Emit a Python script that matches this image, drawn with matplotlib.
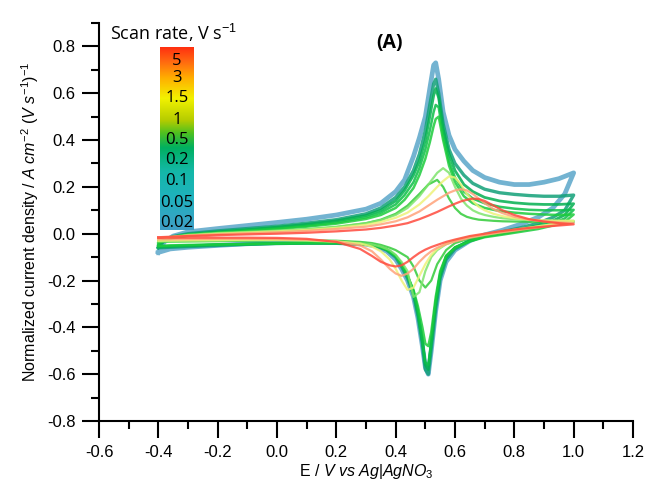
import numpy as np
import matplotlib
matplotlib.use("Agg")
import matplotlib.pyplot as plt
from matplotlib.colors import LinearSegmentedColormap
from matplotlib.ticker import MultipleLocator

plt.rcParams['font.family'] = ['Liberation Sans', 'DejaVu Sans']
plt.rcParams['mathtext.fontset'] = 'custom'
plt.rcParams['mathtext.rm'] = 'Liberation Sans'
plt.rcParams['mathtext.it'] = 'Liberation Sans:italic'

# potential grids (V vs Ag|AgNO3) for the slow, sharp-peaked sweeps
sharp_fwd_e = [-0.4, -0.38, -0.35, -0.3, -0.2, -0.1, 0.0, 0.1, 0.2, 0.3,
               0.35, 0.4, 0.43, 0.46, 0.48, 0.5, 0.515, 0.528, 0.535, 0.545,
               0.56, 0.58, 0.6, 0.63, 0.66, 0.7, 0.75, 0.8, 0.85, 0.9,
               0.95, 1.0]
sharp_rev_e = [1.0, 0.97, 0.93, 0.88, 0.82, 0.76, 0.7, 0.65, 0.6, 0.57,
               0.55, 0.535, 0.52, 0.51, 0.5, 0.49, 0.475, 0.46, 0.44, 0.42,
               0.4, 0.37, 0.33, 0.3, 0.2, 0.1, 0.0, -0.1, -0.2, -0.3,
               -0.36, -0.4]

# potential grids for the fast, broad-peaked sweeps
broad_fwd_e = [-0.4, -0.3, -0.2, -0.1, 0.0, 0.1, 0.2, 0.3, 0.35, 0.4,
               0.44, 0.48, 0.51, 0.54, 0.56, 0.58, 0.6, 0.62, 0.64, 0.66,
               0.68, 0.7, 0.73, 0.76, 0.8, 0.85, 0.9, 0.95, 1.0]
broad_rev_e = [1.0, 0.95, 0.9, 0.85, 0.8, 0.75, 0.7, 0.65, 0.6, 0.57,
               0.54, 0.52, 0.5, 0.48, 0.46, 0.44, 0.42, 0.4, 0.38, 0.35,
               0.32, 0.28, 0.2, 0.1, 0.0, -0.1, -0.2, -0.3, -0.4]

# normalized current density, A cm-2 (V s-1)-1
j_002_fwd = [-0.08, -0.035, -0.01, 0.008, 0.022, 0.035, 0.048, 0.062, 0.08, 0.105,
             0.13, 0.18, 0.23, 0.33, 0.41, 0.5, 0.62, 0.72, 0.73, 0.66,
             0.52, 0.42, 0.36, 0.31, 0.27, 0.24, 0.22, 0.21, 0.21, 0.22,
             0.235, 0.26]
j_002_rev = [0.26, 0.17, 0.11, 0.07, 0.04, 0.015, -0.005, -0.03, -0.07, -0.12,
             -0.2, -0.33, -0.5, -0.6, -0.57, -0.48, -0.36, -0.27, -0.2, -0.15,
             -0.11, -0.075, -0.052, -0.045, -0.038, -0.036, -0.038, -0.043, -0.05, -0.058,
             -0.065, -0.08]

j_005_fwd = [-0.06, -0.03, -0.012, 0.0, 0.012, 0.022, 0.032, 0.045, 0.06, 0.085,
             0.11, 0.155, 0.2, 0.27, 0.34, 0.44, 0.55, 0.64, 0.66, 0.6,
             0.47, 0.36, 0.3, 0.25, 0.215, 0.19, 0.175, 0.168, 0.163, 0.16,
             0.16, 0.165]
j_005_rev = [0.165, 0.1, 0.07, 0.045, 0.025, 0.008, -0.008, -0.03, -0.065, -0.11,
             -0.19, -0.32, -0.49, -0.6, -0.58, -0.47, -0.35, -0.26, -0.19, -0.14,
             -0.1, -0.07, -0.05, -0.045, -0.04, -0.04, -0.042, -0.045, -0.05, -0.055,
             -0.058, -0.06]

j_01_fwd = [-0.05, -0.03, -0.015, -0.003, 0.008, 0.018, 0.028, 0.04, 0.055, 0.078,
            0.1, 0.14, 0.185, 0.25, 0.31, 0.4, 0.5, 0.59, 0.62, 0.58,
            0.45, 0.34, 0.27, 0.21, 0.18, 0.155, 0.14, 0.132, 0.127, 0.125,
            0.125, 0.128]
j_01_rev = [0.128, 0.08, 0.055, 0.035, 0.018, 0.003, -0.01, -0.03, -0.06, -0.1,
            -0.18, -0.3, -0.47, -0.58, -0.56, -0.46, -0.34, -0.25, -0.18, -0.13,
            -0.095, -0.068, -0.05, -0.045, -0.04, -0.04, -0.042, -0.045, -0.048, -0.052,
            -0.055, -0.058]

j_02_fwd = [-0.045, -0.028, -0.015, -0.005, 0.005, 0.014, 0.023, 0.034, 0.048, 0.07,
            0.09, 0.125, 0.165, 0.22, 0.28, 0.36, 0.44, 0.52, 0.55, 0.54,
            0.42, 0.31, 0.24, 0.18, 0.15, 0.13, 0.115, 0.107, 0.102, 0.1,
            0.1, 0.102]
j_02_rev = [0.102, 0.065, 0.045, 0.028, 0.013, 0.0, -0.012, -0.03, -0.058, -0.095,
            -0.17, -0.29, -0.46, -0.56, -0.55, -0.45, -0.33, -0.245, -0.18, -0.13,
            -0.095, -0.068, -0.05, -0.045, -0.04, -0.04, -0.042, -0.044, -0.046, -0.05,
            -0.052, -0.055]

j_05_fwd = [-0.04, -0.025, -0.013, -0.004, 0.004, 0.012, 0.02, 0.03, 0.043, 0.063,
            0.08, 0.11, 0.145, 0.195, 0.25, 0.32, 0.39, 0.46, 0.49, 0.5,
            0.4, 0.29, 0.22, 0.16, 0.13, 0.11, 0.097, 0.09, 0.085, 0.082,
            0.08, 0.082]
j_05_rev = [0.082, 0.05, 0.035, 0.02, 0.008, -0.004, -0.015, -0.033, -0.06, -0.095,
            -0.16, -0.27, -0.42, -0.48, -0.47, -0.4, -0.31, -0.24, -0.18, -0.13,
            -0.095, -0.068, -0.05, -0.045, -0.04, -0.04, -0.042, -0.044, -0.046, -0.048,
            -0.05, -0.052]

j_1_fwd = [-0.03, -0.01, 0.0, 0.005, 0.01, 0.018, 0.028, 0.045, 0.06, 0.085,
           0.12, 0.17, 0.21, 0.23, 0.2, 0.15, 0.11, 0.085, 0.072, 0.065,
           0.06, 0.058, 0.055, 0.053, 0.052, 0.051, 0.05, 0.05, 0.05]
j_1_rev = [0.05, 0.04, 0.03, 0.02, 0.01, 0.0, -0.01, -0.02, -0.04, -0.07,
           -0.13, -0.2, -0.23, -0.2, -0.14, -0.1, -0.085, -0.07, -0.06, -0.048,
           -0.04, -0.035, -0.03, -0.028, -0.028, -0.03, -0.032, -0.033, -0.035]

j_15_fwd = [-0.02, -0.005, 0.003, 0.008, 0.013, 0.02, 0.03, 0.045, 0.058, 0.08,
            0.11, 0.16, 0.21, 0.26, 0.28, 0.26, 0.2, 0.15, 0.12, 0.1,
            0.088, 0.08, 0.072, 0.066, 0.062, 0.058, 0.056, 0.055, 0.055]
j_15_rev = [0.055, 0.045, 0.035, 0.025, 0.015, 0.005, -0.005, -0.015, -0.03, -0.045,
            -0.07, -0.1, -0.16, -0.25, -0.27, -0.16, -0.12, -0.09, -0.07, -0.055,
            -0.045, -0.04, -0.035, -0.03, -0.028, -0.028, -0.03, -0.032, -0.033]

j_3_fwd = [-0.02, -0.008, 0.0, 0.005, 0.01, 0.016, 0.025, 0.038, 0.05, 0.068,
           0.09, 0.125, 0.16, 0.2, 0.225, 0.245, 0.24, 0.21, 0.17, 0.14,
           0.115, 0.1, 0.085, 0.075, 0.066, 0.06, 0.057, 0.055, 0.055]
j_3_rev = [0.055, 0.045, 0.035, 0.026, 0.017, 0.008, -0.002, -0.013, -0.028, -0.042,
           -0.065, -0.09, -0.13, -0.18, -0.23, -0.24, -0.2, -0.15, -0.11, -0.075,
           -0.055, -0.042, -0.033, -0.028, -0.026, -0.026, -0.027, -0.028, -0.03]

j_4_fwd = [-0.018, -0.008, -0.002, 0.002, 0.006, 0.012, 0.02, 0.03, 0.04, 0.053,
           0.07, 0.095, 0.12, 0.145, 0.16, 0.175, 0.185, 0.19, 0.185, 0.17,
           0.15, 0.13, 0.105, 0.088, 0.072, 0.06, 0.053, 0.048, 0.045]
j_4_rev = [0.045, 0.038, 0.03, 0.022, 0.013, 0.005, -0.005, -0.017, -0.033, -0.045,
           -0.06, -0.075, -0.095, -0.12, -0.15, -0.17, -0.18, -0.17, -0.15, -0.11,
           -0.075, -0.05, -0.033, -0.026, -0.023, -0.022, -0.022, -0.023, -0.024]

j_5_fwd = [-0.015, -0.01, -0.006, -0.003, 0.0, 0.004, 0.01, 0.018, 0.025, 0.035,
           0.045, 0.062, 0.077, 0.093, 0.105, 0.117, 0.128, 0.138, 0.145, 0.15,
           0.148, 0.14, 0.12, 0.1, 0.08, 0.062, 0.052, 0.045, 0.04]
j_5_rev = [0.04, 0.035, 0.03, 0.025, 0.018, 0.01, 0.0, -0.01, -0.025, -0.035,
           -0.048, -0.057, -0.068, -0.082, -0.1, -0.12, -0.135, -0.14, -0.135, -0.12,
           -0.095, -0.065, -0.035, -0.022, -0.018, -0.017, -0.017, -0.017, -0.017]

x_ticks = [-0.6, -0.4, -0.2, 0.0, 0.2, 0.4, 0.6, 0.8, 1.0, 1.2]
y_ticks = [-0.8, -0.6, -0.4, -0.2, 0.0, 0.2, 0.4, 0.6, 0.8]

scan_labels = ['5', '3', '1.5', '1', '0.5', '0.2', '0.1', '0.05', '0.02']
label_y = [0.925, 0.83, 0.72, 0.6, 0.49, 0.38, 0.27, 0.145, 0.04]

ramp = ['#3f9ec6', '#1fb2bd', '#14b8a8', '#00b060', '#4fc020', '#b5cc00',
        '#f2f200', '#ffb000', '#ff6a10', '#ff3010']
ramp_pos = [0.0, 0.18, 0.32, 0.45, 0.53, 0.6, 0.72, 0.83, 0.92, 1.0]

# (potentials, currents, colour, width), fastest sweep first
curves = [
    (broad_fwd_e + broad_rev_e, j_5_fwd + j_5_rev, '#ff4a3d', 1.6),
    (broad_fwd_e + broad_rev_e, j_4_fwd + j_4_rev, '#ffa27a', 1.6),
    (broad_fwd_e + broad_rev_e, j_3_fwd + j_3_rev, '#eef27a', 1.6),
    (broad_fwd_e + broad_rev_e, j_15_fwd + j_15_rev, '#7ee46c', 1.6),
    (broad_fwd_e + broad_rev_e, j_1_fwd + j_1_rev, '#33cc3a', 1.6),
    (sharp_fwd_e + sharp_rev_e, j_05_fwd + j_05_rev, '#1ccc3c', 1.8),
    (sharp_fwd_e + sharp_rev_e, j_02_fwd + j_02_rev, '#0cbf48', 1.8),
    (sharp_fwd_e + sharp_rev_e, j_01_fwd + j_01_rev, '#03b050', 2.0),
    (sharp_fwd_e + sharp_rev_e, j_005_fwd + j_005_rev, '#12a078', 2.4),
    (sharp_fwd_e + sharp_rev_e, j_002_fwd + j_002_rev, '#5aa6c9', 3.4),
]

fig = plt.figure(figsize=(6.48, 4.92), dpi=100)
ax = fig.add_axes([99 / 648, 71 / 492, 534 / 648, 398 / 492])

# slow sweeps at the back, fast sweeps on top
for e, j, c, lw in curves[::-1]:
    ax.plot(e, j, color=c, lw=lw, alpha=0.85, solid_joinstyle='round')

ax.set_xlim(-0.6, 1.2)
ax.set_ylim(-0.8, 0.9)
ax.set_xticks(x_ticks)
ax.set_yticks(y_ticks)
ax.set_xticklabels([f'{v:.1f}' for v in x_ticks])
ax.set_yticklabels([f'{v:.1f}' for v in y_ticks])
ax.xaxis.set_minor_locator(MultipleLocator(0.1))
ax.yaxis.set_minor_locator(MultipleLocator(0.1))
for s in ['top', 'right']:
    ax.spines[s].set_visible(False)
for s in ['left', 'bottom']:
    ax.spines[s].set_linewidth(1.5)
ax.tick_params(which='major', direction='out', length=12, width=1.5, labelsize=12, pad=5)
ax.tick_params(which='minor', direction='out', length=6, width=1.5)

ax.set_xlabel('E / $V\\ vs\\ Ag|AgNO_3$', fontsize=11.5, labelpad=2)
ax.set_ylabel('Normalized current density / $A\\ cm^{-2}\\ (V\\ s^{-1})^{-1}$', fontsize=11.5, labelpad=4)

ax.text(0.38, 0.815, '(A)', fontsize=14, fontweight='bold', ha='center', va='center',
        family=['Open Sans', 'DejaVu Sans'])

# scan-rate colour strip
cmap = LinearSegmentedColormap.from_list('scan', list(zip(ramp_pos, ramp)))
cax = fig.add_axes([160 / 648, 262 / 492, 34 / 648, 183 / 492])
cax.imshow(np.linspace(0, 1, 256)[::-1].reshape(-1, 1), aspect='auto', cmap=cmap,
           extent=[0, 1, 0, 1])
cax.set_axis_off()
for lab, yy in zip(scan_labels, label_y):
    cax.text(0.5, yy, lab, ha='center', va='center', fontsize=12,
             family=['Open Sans', 'DejaVu Sans'], transform=cax.transAxes)
fig.text(110 / 648, 1 - 33 / 492, 'Scan rate, V s$^{-1}$', fontsize=13, va='center',
         family=['Open Sans', 'DejaVu Sans'])

fig.savefig('out.png', dpi=100)
